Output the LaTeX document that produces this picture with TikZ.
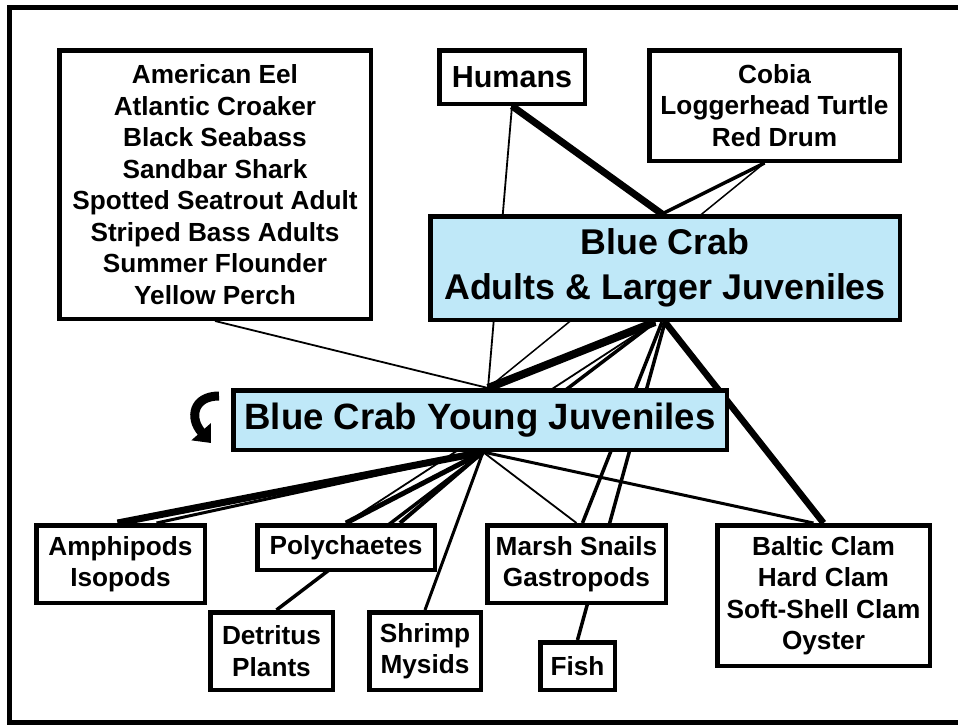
\documentclass[tikz,border=0pt]{standalone}
\usepackage{fontspec}
\setmainfont{Liberation Sans}
\usetikzlibrary{arrows.meta, calc, backgrounds}
\definecolor{CrabBlue}{HTML}{BFE8F8}

\begin{document}
\begin{tikzpicture}[
  x=1pt, y=-1pt,
  box/.style={draw, line width=4.5pt, fill=white, inner sep=0pt, align=center,
    font=\fontsize{26.2}{31.5}\selectfont\bfseries},
  crab/.style={box, fill=CrabBlue, font=\fontsize{35.8}{45}\selectfont\bfseries},
  thinlink/.style={line width=1.8pt},
  midlink/.style={line width=3.5pt},
  thicklink/.style={line width=7pt},
  >=Triangle
]
  \useasboundingbox (0,0) rectangle (958,726);
  \draw[line width=4.5pt] (966,7.5) -| (9.5,722.5) -- (966,722.5);

  % predators
  \node[box, minimum width=311.5pt, minimum height=268.5pt] (pred) at (215,184.5)
    {American Eel\\Atlantic Croaker\\Black Seabass\\Sandbar Shark\\Spotted Seatrout Adult\\Striped Bass Adults\\Summer Flounder\\Yellow Perch};
  \node[box, minimum width=145.5pt, minimum height=53.5pt,
    font=\fontsize{30.5}{36}\selectfont\bfseries] (hum) at (512,77) {Humans};
  \node[box, minimum width=250.5pt, minimum height=110.5pt] (cob) at (774.5,105.5)
    {Cobia\\Loggerhead Turtle\\Red Drum};

  % blue crab stages
  \node[crab, minimum width=469.5pt, minimum height=103.5pt] (adu) at (665,268)
    {Blue Crab\\Adults \& Larger Juveniles};
  \node[crab, minimum width=493.5pt, minimum height=59.5pt,
    font=\fontsize{36.6}{45}\selectfont\bfseries] (yj) at (480,420)
    {Blue Crab Young Juveniles};

  % prey
  \node[box, minimum width=168.5pt, minimum height=77.5pt] (amp) at (120.5,564) {Amphipods\\Isopods};
  \node[box, minimum width=177.5pt, minimum height=44.5pt] (pol) at (346,547.5) {Polychaetes};
  \node[box, minimum width=122.5pt, minimum height=77.5pt] (det) at (271.5,651) {Detritus\\Plants};
  \node[box, minimum width=111.5pt, minimum height=77.5pt] (shr) at (425,651) {Shrimp\\Mysids};
  \node[box, minimum width=178.5pt, minimum height=77.5pt] (mar) at (576.5,564) {Marsh Snails\\Gastropods};
  \node[box, minimum width=74.5pt, minimum height=47.5pt] (fis) at (577.5,666) {Fish};
  \node[box, minimum width=212.5pt, minimum height=140.5pt] (bal) at (823.5,595.5)
    {Baltic Clam\\Hard Clam\\Soft-Shell Clam\\Oyster};

  \coordinate (aduN) at ($(adu.north)+(-3,0)$);
  \coordinate (aduS) at ($(adu.south)+(-10,0)$);
  \coordinate (yjN) at ($(yj.north)+(8,0)$);
  \coordinate (yjS) at ($(yj.south)+(3,0)$);

  \begin{scope}[on background layer]
    % eaten by
    \draw[thicklink] (hum.south) -- (aduN);
    \draw[thinlink] (hum.south) -- (yjN);
    \draw[midlink] ($(cob.south)+(-10,0)$) -- (aduN);
    \draw[line width=1.5pt] ($(cob.south)+(-10,0)$) -- (yjN);
    \draw[thinlink] (pred.south) -- (yjN);
    % adults feed on
    \draw[line width=8pt] (aduS) -- (yjN);
    \draw[thinlink] (aduS) -- (pol.north);
    \draw[midlink] (aduS) -- ($(det.north)+(5,0)$);
    \draw[midlink] ($(adu.south)+(-3,0)$) -- ($(mar.north)+(6,0)$);
    \draw[midlink] (adu.south) -- (fis.north);
    \draw[line width=6.5pt] (adu.south) -- (bal.north);
    % young juveniles feed on
    \draw[thicklink] (yjS) -- ($(amp.north)+(-3,0)$);
    \draw[line width=3pt] (yjS) -- ($(amp.north)+(36,0)$);
    \draw[line width=5pt] (yjS) -- (pol.north);
    \draw[line width=4pt] (yjS) -- ($(pol.north)+(54,0)$);
    \draw[line width=3pt] (yjS) -- (shr.north);
    \draw[thinlink] (yjS) -- (mar.north);
    \draw[line width=3pt] (yjS) -- ($(bal.north)+(-10,0)$);
  \end{scope}

  % cannibalism
  \coordinate (loopA) at ($(yj.west)+(-12,-24)$);
  \coordinate (loopB) at ($(yj.west)+(-20,23)$);
  \draw[line width=9pt, -{Triangle[length=15pt, width=25pt]}] (loopA)
    .. controls ($(yj.west)+(-38,-24)$) and ($(yj.west)+(-42,-2)$) .. (loopB);
\end{tikzpicture}
\end{document}
